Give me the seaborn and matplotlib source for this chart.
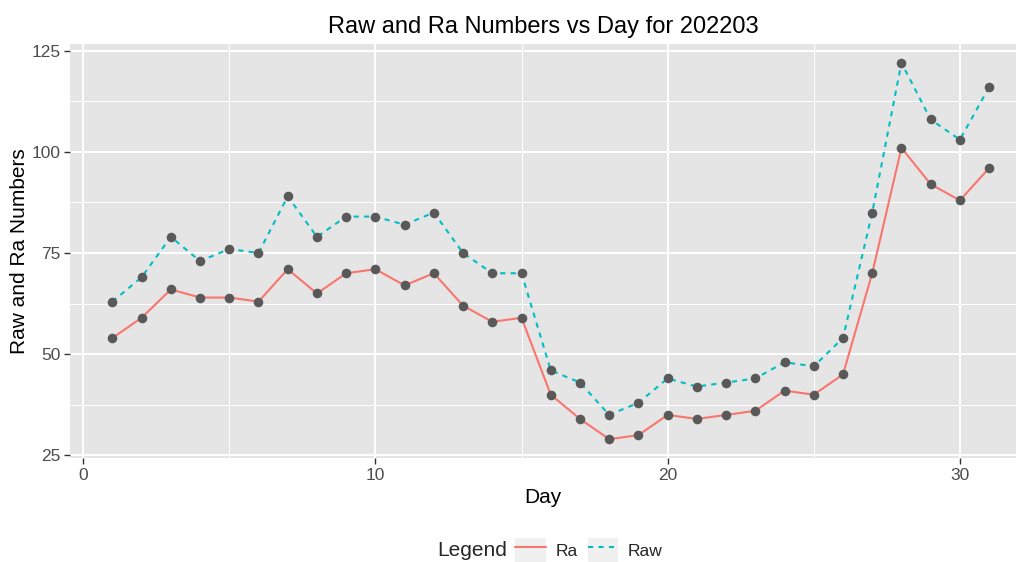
import numpy as np
import pandas as pd
import matplotlib
matplotlib.use("Agg")
import matplotlib.pyplot as plt
import seaborn as sns
from matplotlib.lines import Line2D
from matplotlib.patches import Rectangle
from matplotlib.ticker import MultipleLocator

days = list(range(1, 32))
ra = [54, 59, 66, 64, 64, 63, 71, 65, 70, 71, 67, 70, 62, 58, 59, 40, 34, 29, 30, 35,
      34, 35, 36, 41, 40, 45, 70, 101, 92, 88, 96]
raw = [63, 69, 79, 73, 76, 75, 89, 79, 84, 84, 82, 85, 75, 70, 70, 46, 43, 35, 38, 44,
       42, 43, 44, 48, 47, 54, 85, 122, 108, 103, 116]
series_names = ["Ra", "Raw"]
x_ticks = [0, 10, 20, 30]
y_ticks = [25, 50, 75, 100, 125]

df = pd.DataFrame({
    "Day": days * 2,
    "Value": ra + raw,
    "Legend": [series_names[0]] * len(days) + [series_names[1]] * len(days),
})

sns.set_theme(style="darkgrid")
plt.rcParams["font.family"] = ["Liberation Sans", "DejaVu Sans"]

colors = {"Ra": "#F8766D", "Raw": "#00BFC4"}
fig = plt.figure(figsize=(10.16, 5.62), dpi=100)
ax = fig.add_axes([70 / 1016, 1 - 458 / 562, 946 / 1016, 414 / 562])
ax.set_facecolor("#E5E5E5")

sns.lineplot(data=df, x="Day", y="Value", hue="Legend", style="Legend",
             palette=colors, dashes={"Ra": "", "Raw": (2.5, 2.5)},
             linewidth=1.5, ax=ax, legend=False)
sns.scatterplot(data=df, x="Day", y="Value", color="#595959", s=48,
                linewidth=0, ax=ax, legend=False, zorder=5)

ax.set_xlim(-0.45, 31.92)
ax.set_ylim(24.35, 126.65)
ax.set_xticks(x_ticks)
ax.set_yticks(y_ticks)
ax.xaxis.set_minor_locator(MultipleLocator(5))
ax.yaxis.set_minor_locator(MultipleLocator(12.5))
ax.grid(which="major", color="white", linewidth=1.4)
ax.grid(which="minor", color="white", linewidth=0.7)
for s in ax.spines.values():
    s.set_visible(False)
ax.tick_params(axis="both", which="major", length=4, width=1, color="#333333",
               labelsize=12.5, labelcolor="#4D4D4D", pad=3, bottom=True, left=True)
ax.tick_params(which="minor", length=0)
ax.set_xlabel("Day", fontsize=15, color="black", labelpad=4)
ax.set_ylabel("Raw and Ra Numbers", fontsize=15, color="black", labelpad=1.5)
ax.set_title("Raw and Ra Numbers vs Day for 202203", fontsize=17, color="black", pad=8)

handles = []
for name, ls in zip(series_names, ["-", (0, (2.5, 2.5))]):
    bg = Rectangle((0, 0), 1, 1, facecolor="#F0F0F0", edgecolor="none")
    ln = Line2D([], [], color=colors[name], linestyle=ls, linewidth=1.5)
    handles.append((bg, ln))
fig.text(472 / 1016, 1 - 550 / 562, "Legend", fontsize=15, ha="center", va="center")
leg = fig.legend(handles, series_names, loc="center", bbox_to_anchor=(589 / 1016, 1 - 550 / 562),
                 ncol=2, frameon=False, fontsize=12.5, handlelength=1.75, handleheight=1.75,
                 columnspacing=0.57, handletextpad=0.57)

fig.savefig("out.png", dpi=100, facecolor="white")
